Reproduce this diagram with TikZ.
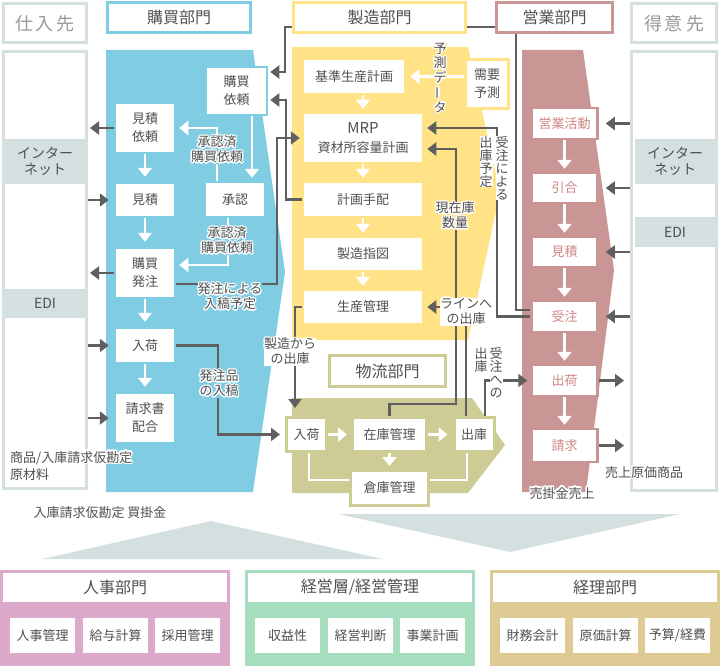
\documentclass[tikz,border=0pt]{standalone}
\usepackage{fontspec}
\setmainfont{Noto Sans CJK JP}
\usepackage[copies]{contour}
\contourlength{1.5pt}
\contournumber{10}
\usetikzlibrary{arrows.meta,calc}
\definecolor{cblue}{HTML}{7FCCE3}
\definecolor{cyel}{HTML}{FFE386}
\definecolor{cpink}{HTML}{CA9595}
\definecolor{ctxtpink}{HTML}{D08686}
\definecolor{colive}{HTML}{CDCC95}
\definecolor{cgray}{HTML}{D4DFDF}
\definecolor{cgtxt}{HTML}{9A9A9A}
\definecolor{cline}{HTML}{5F5F5F}
\definecolor{ctext}{HTML}{505050}
\definecolor{cjinji}{HTML}{DCA9CA}
\definecolor{ckeiei}{HTML}{A7DEC0}
\definecolor{ckeiri}{HTML}{DDCB93}
\newcommand{\hw}[1]{\contour{white}{#1}}
\newcommand{\vbar}{\rotatebox[origin=c]{90}{ー}}
\pgfdeclarelayer{bands}
\pgfdeclarelayer{conn}
\pgfsetlayers{bands,conn,main}
\tikzset{
  txt/.style={text=ctext, font=\fontsize{13}{18}\selectfont, align=center, inner sep=0pt},
  sz/.style 2 args={minimum width=#1, minimum height=#2},
  bnode/.style={txt, fill=white, draw=cblue, line width=2.5pt},
  ynode/.style={txt, fill=white, draw=cyel, line width=2.5pt},
  onode/.style={txt, fill=white, draw=colive, line width=3pt},
  pnode/.style={txt, text=ctxtpink, fill=white, draw=cpink, line width=2.5pt},
  head/.style={txt, font=\fontsize{16}{18}\selectfont, fill=white, line width=3pt},
  ghead/.style={head, draw=cgray, text=cgtxt, font=\fontsize{18}{20}\selectfont},
  gfill/.style={txt, fill=cgray, text=ctext, font=\fontsize{14}{16}\selectfont},
  garrow/.style={draw=cline, line width=2.2pt, -{Triangle[length=9pt,width=13pt]}},
  warrow/.style={draw=white, line width=2.8pt, -{Triangle[length=9pt,width=14pt]}},
  wline/.style={draw=white, line width=2.8pt},
  lbl/.style={text=ctext, font=\fontsize{13}{15}\selectfont, align=center, inner sep=0pt},
  vlbl/.style={lbl, font=\fontsize{13}{13}\selectfont, anchor=north},
  phead/.style={txt, fill=white, font=\fontsize{16}{18}\selectfont},
  psub/.style={txt, fill=white, minimum width=65, minimum height=35},
}
\begin{document}
\begin{tikzpicture}[x=1pt,y=-1pt]
\useasboundingbox (0,0) rectangle (720,666);

% ---------- bands ----------
\begin{pgfonlayer}{bands}
\fill[cblue] (106,50) -- (253,50) -- (285,272) -- (253,492) -- (106,492) -- cycle;
\fill[cyel] (292,47) -- (468,47) -- (500,193) -- (468,340) -- (292,340) -- cycle;
\fill[colive] (292,398) -- (472,398) -- (505,445) -- (468,493) -- (292,493) -- cycle;
\fill[cpink] (522,50) -- (583,50) -- (614,270) -- (586,492) -- (522,492) -- cycle;
\end{pgfonlayer}

% ---------- side bodies ----------
\node[draw=cgray, line width=3pt, fill=white, sz={83}{437}] (sbody) at (45,270) {};
\node[draw=cgray, line width=3pt, fill=white, sz={85}{439}] (tbody) at (674,271) {};
\node[gfill, sz={80}{45}] (sInet) at (45,161.5) {インター\\ネット};
\node[gfill, sz={80}{29}] (sEDI) at (45,303.5) {EDI};
\node[gfill, sz={80}{45}] (tInet) at (675,161.5) {インター\\ネット};
\node[gfill, sz={80}{30}] (tEDI) at (675,232) {EDI};

% ---------- headers ----------
\node[ghead, sz={83}{39}] (shiire) at (45,23.5) {仕\,入\,先};
\node[head, draw=cblue, sz={143}{30}] (kobaiH) at (179,17.5) {購買部門};
\node[head, draw=cyel, sz={172}{30}] (seizoH) at (379.5,17.5) {製造部門};
\node[head, draw=cpink, sz={116}{30}] (eigyoH) at (554.5,17.5) {営業部門};
\node[ghead, sz={85}{39}] (tokui) at (674,23.5) {得\,意\,先};
\node[head, draw=colive, sz={116}{31}] (butsuH) at (387.5,371) {物流部門};

% ---------- blue nodes ----------
\node[bnode, sz={61}{48}] (kobaiirai) at (236.5,91) {購買\\依頼};
\node[bnode, sz={60}{50}] (mitsuirai) at (145,128) {見積\\依頼};
\node[bnode, sz={60}{34}] (mitsu) at (145,200) {見積};
\node[bnode, sz={60}{35}] (shonin) at (235,199.5) {承認};
\node[bnode, sz={60}{50}] (hatchu) at (145,273) {購買\\発注};
\node[bnode, sz={60}{35}] (nyuka) at (145,345.5) {入荷};
\node[bnode, sz={60}{50}] (seikyu) at (145,418) {請求書\\配合};

% ---------- yellow nodes ----------
\node[ynode, sz={102}{35}] (kijun) at (354,76.5) {基準生産計画};
\node[ynode, sz={43}{49}] (juyo) at (487,84) {需要\\予測};
\node[ynode, sz={120}{50}, font=\fontsize{13}{19}\selectfont] (mrp) at (363,138) {{\fontsize{15}{15}\selectfont MRP}\\資材所容量計画};
\node[ynode, sz={120}{35}] (tehai) at (363,199.5) {計画手配};
\node[ynode, sz={120}{34}] (shiji) at (363,254) {製造指図};
\node[ynode, sz={120}{34}] (seisan) at (363,307) {生産管理};

% ---------- olive nodes ----------
\node[onode, sz={40}{34}] (bnyuka) at (306.5,434.5) {入荷};
\node[onode, sz={74}{34}] (zaiko) at (389.5,434.5) {在庫管理};
\node[onode, sz={40}{34}] (shukko) at (474,434.5) {出庫};
\node[onode, sz={78}{35}] (soko) at (389.5,488) {倉庫管理};

% ---------- pink nodes ----------
\node[pnode, sz={66}{31}] (eigyo) at (564.5,123.5) {営業活動};
\node[pnode, sz={66}{30}] (hikiai) at (564.5,188) {引合};
\node[pnode, sz={66}{30}] (pmitsu) at (564.5,252) {見積};
\node[pnode, sz={66}{31}] (juchu) at (564.5,316.5) {受注};
\node[pnode, sz={66}{31}] (shuka) at (564.5,380.5) {出荷};
\node[pnode, sz={66}{33}] (pseikyu) at (564.5,445.5) {請求};

\coordinate (w1) at ([xshift=15.5pt]kobaiirai.south);

% ---------- connectors ----------
\begin{pgfonlayer}{conn}
% supplier side
\draw[garrow, shorten >=2pt] (mitsuirai.west) -- (mitsuirai.west -| sbody.east);
\draw[garrow, shorten >=5pt] (sbody.east |- mitsu.west) -- (mitsu.west);
\draw[garrow, shorten >=2pt] (hatchu.west) -- (hatchu.west -| sbody.east);
\draw[garrow, shorten >=5pt] (sbody.east |- nyuka.west) -- (nyuka.west);
\draw[garrow, shorten >=5pt] (sbody.east |- seikyu.west) -- (seikyu.west);
% customer side
\foreach \n in {eigyo,hikiai,pmitsu,juchu}
  \draw[garrow, shorten >=7pt] (tbody.west |- \n.east) -- (\n.east);
\draw[garrow, shorten >=6pt] (shuka.east) -- (shuka.east -| tbody.west);
\draw[garrow, shorten >=6pt] (pseikyu.east) -- (pseikyu.east -| tbody.west);
% blue white arrows
\draw[warrow, shorten >=5pt] (mitsuirai) -- (mitsu);
\draw[warrow, shorten >=5pt] (mitsu) -- (hatchu);
\draw[warrow, shorten >=5pt] (hatchu) -- (nyuka);
\draw[warrow, shorten >=5pt] (nyuka) -- (seikyu);
\draw[warrow, shorten >=3pt] (w1) -- (w1 |- shonin.north);
\draw[warrow, shorten >=3pt] ([xshift=-18pt]shonin.north) |- (mitsuirai.east);
\draw[warrow, shorten >=3pt] ([xshift=-7pt]shonin.south) |- ([yshift=8pt]hatchu.east);
% yellow white arrows
\draw[warrow, shorten >=4pt] (juyo.west |- kijun.east) -- (kijun.east);
\draw[warrow, shorten >=3pt] (mrp.north |- kijun.south) -- (mrp.north);
\draw[warrow, shorten >=3pt] (mrp) -- (tehai);
\draw[warrow, shorten >=3pt] (tehai) -- (shiji);
\draw[warrow, shorten >=3pt] (shiji) -- (seisan);
% olive white arrows
\draw[warrow, shorten >=4pt] (bnyuka) -- (zaiko);
\draw[warrow, shorten >=5pt] (zaiko) -- (shukko);
\draw[warrow, shorten >=3pt] (zaiko) -- (soko);
\draw[wline] ([xshift=2.5pt]bnyuka.south) |- ([yshift=8pt]soko.west);
\draw[wline] ([xshift=-7pt]shukko.south) |- ([yshift=8pt]soko.east);
% pink white arrows
\draw[warrow, shorten >=3pt] (eigyo) -- (hikiai);
\draw[warrow, shorten >=3pt] (hikiai) -- (pmitsu);
\draw[warrow, shorten >=3pt] (pmitsu) -- (juchu);
\draw[warrow, shorten >=3pt] (juchu) -- (shuka);
\draw[warrow, shorten >=3pt] (shuka) -- (pseikyu);
% gray long connectors
\draw[garrow, shorten >=2pt] ([yshift=6.5pt]juchu.west) -- (516,310) -- (516,27) -- (285,27) |- ([yshift=19pt]kobaiirai.east);
\draw[garrow, shorten >=3pt] (juchu.west) -| (497,128) -- ([yshift=10pt]mrp.east);
\draw[garrow, shorten >=3pt] (zaiko.north) -- (389.5,404) -| (456,149) -- ([yshift=-11pt]mrp.east);
\draw[garrow, shorten >=3pt] ([xshift=-8pt]shukko.north) |- (seisan.east);
\draw[garrow, shorten >=3pt] ([xshift=11pt]shukko.north) |- (shuka.west);
\draw[garrow, shorten >=8pt] (seisan.west) -| ([xshift=-11.5pt]bnyuka.north);
\draw[garrow, shorten >=2pt] (tehai.west) -- (286,199.5) |- ([yshift=-9pt]kobaiirai.east);
\draw[garrow, shorten >=2pt] ([yshift=-11pt]hatchu.east) -| (277,138) -- (mrp.west);
\draw[garrow, shorten >=5pt] (nyuka.east) -| (218,434.5) -- (bnyuka.west);
\end{pgfonlayer}

% ---------- labels ----------
\node[lbl, fill=cblue] (l1) at (217,150) {\hw{承認済}\\\hw{購買依頼}};
\node[lbl, fill=cblue] (l2) at (227,241) {\hw{承認済}\\\hw{購買依頼}};
\node[lbl, fill=cblue] (l3) at (230,297) {\hw{発注による}\\\hw{入稿予定}};
\node[lbl, fill=cblue] (l4) at (219,384) {\hw{発注品}\\\hw{の入稿}};
\node[lbl, fill=white] (l5) at (290,352) {\hw{製造から}\\\hw{の出庫}};
\node[lbl, fill=white] (l6) at (466,312) {\hw{ラインへ}\\\hw{の出庫}};
\node[lbl, fill=cyel] (l7) at (455,216) {\hw{現在庫}\\\hw{数量}};
\node[vlbl, fill=cyel] (l8) at (440,43) {\hw{予}\\\hw{測}\\\hw{デ}\\\hw{\vbar}\\\hw{タ}};
\node[vlbl, fill=white] (l9) at (502,136) {受\\注\\に\\よ\\る};
\node[vlbl, fill=white] (l10) at (486,136) {出\\庫\\予\\定};
\node[vlbl, fill=white] (l11) at (496,347) {受\\注\\へ\\の};
\node[vlbl, fill=white] (l12) at (481,347) {出\\庫};

\node[lbl, anchor=north west, align=left, font=\fontsize{13}{17}\selectfont] (t1) at (10,451) {\hw{商品/入庫請求仮勘定}\\\hw{原材料}};
\node[lbl] (t2) at (100,513) {入庫請求仮勘定 買掛金};
\node[lbl] (t3) at (644,473) {\hw{売上原価商品}};
\node[lbl] (t4) at (562,494) {\hw{売掛金売上}};

% ---------- bottom ----------
\fill[cgray] (42,559) -- (211,521) -- (383,559) -- cycle;
\fill[cgray] (338,514) -- (680,514) -- (510,552) -- cycle;

\node[fill=cjinji, sz={230}{96}, inner sep=0pt] (jinji) at (115,618) {};
\node[fill=ckeiei, sz={230}{96}, inner sep=0pt] (keiei) at (360,618) {};
\node[fill=ckeiri, sz={230}{96}, inner sep=0pt] (keiri) at (605,618) {};
\node[phead, sz={224}{29}] (jinjiH) at (115,587.5) {人事部門};
\node[phead, sz={224}{29}] (keieiH) at (360,587.5) {経営層/経営管理};
\node[phead, sz={224}{29}] (keiriH) at (605,587.5) {経理部門};
\node[psub] (j1) at (42.5,635.5) {人事管理};
\node[psub] (j2) at (115.5,635.5) {給与計算};
\node[psub] (j3) at (187.5,635.5) {採用管理};
\node[psub] (k1) at (287.5,635.5) {収益性};
\node[psub] (k2) at (360.5,635.5) {経営判断};
\node[psub] (k3) at (432.5,635.5) {事業計画};
\node[psub] (r1) at (532.5,635.5) {財務会計};
\node[psub] (r2) at (605.5,635.5) {原価計算};
\node[psub] (r3) at (677.5,635.5) {予算/経費};
\end{tikzpicture}
\end{document}
